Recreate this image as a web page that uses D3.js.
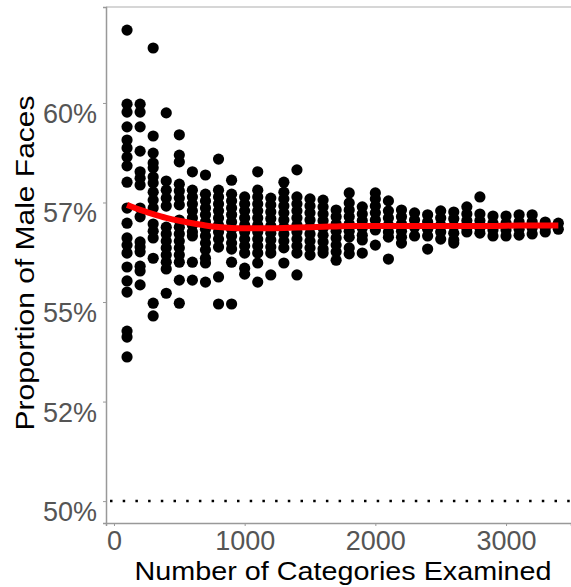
<!DOCTYPE html>
<html lang="en">
<head>
    <meta charset="UTF-8">
    <title>Proportion of Male Faces</title>
    <script src="https://cdnjs.cloudflare.com/ajax/libs/d3/7.8.5/d3.min.js"></script>
    <style>
        body {
            margin: 0;
            background-color: #fff;
            font-family: "Liberation Sans", Arial, sans-serif;
        }
        .tick-label {
            fill: #555;
            font-size: 27px;
        }
        .axis-title {
            fill: #000;
            font-size: 25px;
        }
    </style>
</head>
<body>
    <div id="chart"></div>

    <script>
        // number of categories examined (one column of dots per value)
        const categories = [100, 200, 300, 400, 500, 600, 700, 800, 900, 1000,
            1100, 1200, 1300, 1400, 1500, 1600, 1700, 1800, 1900, 2000,
            2100, 2200, 2300, 2400, 2500, 2600, 2700, 2800, 2900, 3000,
            3100, 3200, 3300, 3400];

        // proportion of male faces (%) for each sample, one list per column
        const proportions = [
            [61.83, 59.97, 59.77, 59.40, 59.07, 58.87, 58.64, 58.42, 58.01, 57.36, 56.98, 56.61, 56.43, 56.23, 55.88, 55.53, 55.25, 54.27, 54.12, 53.62],
            [59.97, 59.77, 59.40, 58.79, 58.27, 58.11, 57.94, 57.36, 57.14, 56.51, 56.38, 56.26, 55.90, 55.78, 55.43],
            [61.38, 59.17, 58.74, 58.49, 58.37, 58.14, 57.99, 57.76, 57.56, 57.36, 56.96, 56.78, 56.61, 56.10, 54.97, 54.65],
            [59.75, 58.04, 57.81, 57.61, 57.41, 56.88, 56.71, 56.53, 56.36, 56.18, 56.00, 55.83, 55.22],
            [59.20, 58.69, 58.52, 57.96, 57.79, 57.61, 57.44, 57.06, 56.88, 56.71, 56.53, 56.36, 56.18, 56.00, 55.55, 54.97],
            [58.27, 57.81, 57.64, 57.46, 57.29, 57.11, 56.93, 56.76, 56.66, 56.00, 55.55],
            [58.19, 57.71, 57.54, 57.36, 57.19, 57.01, 56.83, 56.66, 56.48, 56.31, 56.10, 55.98, 55.50],
            [58.59, 57.81, 57.64, 57.46, 57.29, 57.11, 56.93, 56.76, 56.58, 56.38, 55.63, 54.95],
            [58.06, 57.71, 57.54, 57.36, 57.19, 57.01, 56.83, 56.66, 56.48, 56.33, 56.00, 54.95],
            [57.64, 57.46, 57.29, 57.11, 56.93, 56.76, 56.58, 56.41, 56.23, 55.85, 55.70],
            [58.27, 57.81, 57.64, 57.46, 57.29, 57.11, 56.93, 56.76, 56.58, 56.41, 56.23, 55.98, 55.50],
            [57.61, 57.44, 57.26, 57.09, 56.91, 56.73, 56.56, 56.38, 56.23, 55.68],
            [58.01, 57.76, 57.59, 57.41, 57.24, 57.06, 56.88, 56.71, 56.53, 56.36, 55.98],
            [58.32, 57.64, 57.46, 57.29, 57.11, 56.93, 56.76, 56.58, 56.41, 56.23, 55.68],
            [57.59, 57.41, 57.24, 57.06, 56.88, 56.71, 56.53, 56.36, 56.18],
            [57.56, 57.39, 57.21, 57.04, 56.86, 56.68, 56.51, 56.33, 56.23],
            [57.31, 57.14, 56.96, 56.78, 56.61, 56.43, 56.26, 56.05],
            [57.74, 57.49, 57.31, 57.14, 56.96, 56.78, 56.63, 56.36, 56.21],
            [57.39, 57.21, 57.04, 56.86, 56.68, 56.56, 56.23],
            [57.74, 57.59, 57.41, 57.24, 57.06, 56.88, 56.81, 56.43],
            [57.54, 57.29, 57.11, 56.93, 56.76, 56.63, 56.08],
            [57.31, 57.14, 56.96, 56.78, 56.63, 56.48],
            [57.24, 57.06, 56.88, 56.66],
            [57.19, 57.01, 56.83, 56.66, 56.33],
            [57.29, 57.11, 56.93, 56.76, 56.58],
            [57.26, 57.09, 56.91, 56.73, 56.56, 56.48],
            [57.39, 57.21, 57.04, 56.86, 56.76],
            [57.64, 57.21, 57.04, 56.86, 56.73],
            [57.16, 56.98, 56.81, 56.66],
            [57.16, 56.98, 56.81, 56.66],
            [57.19, 57.01, 56.83, 56.68],
            [57.19, 57.01, 56.86, 56.71],
            [57.01, 56.86, 56.76],
            [56.98, 56.83]
        ];

        // smoothed trend (loess) read at each column
        const smoothValues = [57.44, 57.31, 57.21, 57.11, 57.04, 56.98, 56.92, 56.88, 56.86, 56.85,
            56.85, 56.85, 56.86, 56.87, 56.88, 56.89, 56.90, 56.91, 56.91, 56.91,
            56.91, 56.91, 56.91, 56.91, 56.91, 56.91, 56.91, 56.91, 56.91, 56.92,
            56.92, 56.92, 56.92, 56.92];

        const xTicks = [0, 1000, 2000, 3000];
        const yTicks = [50, 52.5, 55, 57.5, 60];
        const yTickLabels = ["50%", "52%", "55%", "57%", "60%"];
        const chanceLevel = 50;

        const width = 571, height = 587;
        const plot = {left: 106, right: 571, top: 7, bottom: 523};

        const svg = d3.select("#chart")
            .append("svg")
            .attr("width", width)
            .attr("height", height);

        const x = d3.scaleLinear()
            .domain([-61, 3497])
            .range([plot.left, plot.right]);

        const y = d3.scaleLinear()
            .domain([49.45, 62.41])
            .range([plot.bottom, plot.top]);

        // flatten columns into points
        const points = [];
        categories.forEach((c, i) => {
            proportions[i].forEach(p => points.push({c: c, p: p}));
        });

        // top border
        svg.append("line")
            .attr("x1", plot.left).attr("x2", plot.right)
            .attr("y1", plot.top).attr("y2", plot.top)
            .attr("stroke", "#c8c8c8")
            .attr("stroke-width", 1.5);

        // chance line
        svg.append("line")
            .attr("x1", plot.left + 4).attr("x2", plot.right)
            .attr("y1", y(chanceLevel)).attr("y2", y(chanceLevel))
            .attr("stroke", "#000")
            .attr("stroke-width", 2.5)
            .attr("stroke-dasharray", "2.5,10.2");

        // axes
        const yAxis = d3.axisLeft(y)
            .tickValues(yTicks)
            .tickFormat((d, i) => yTickLabels[i])
            .tickSize(3)
            .tickPadding(6);

        const gy = svg.append("g")
            .attr("transform", `translate(${plot.left},0)`)
            .call(yAxis);
        gy.select(".domain").attr("stroke", "#999").attr("stroke-width", 1.5);
        gy.selectAll(".tick line").attr("stroke", "#999");
        gy.selectAll(".tick text")
            .attr("class", "tick-label")
            .attr("font-family", null)
            .attr("dy", "0.72em");

        const xAxis = d3.axisBottom(x)
            .tickValues(xTicks)
            .tickFormat(d3.format("d"))
            .tickSize(3)
            .tickPadding(5);

        const gx = svg.append("g")
            .attr("transform", `translate(0,${plot.bottom})`)
            .call(xAxis);
        gx.select(".domain").attr("stroke", "#999").attr("stroke-width", 1.5);
        gx.selectAll(".tick line").attr("stroke", "#999");
        gx.selectAll(".tick text")
            .attr("class", "tick-label")
            .attr("font-family", null);
        svg.selectAll("g").attr("font-size", null);

        // points
        svg.append("g")
            .selectAll("circle")
            .data(points)
            .join("circle")
            .attr("cx", d => x(d.c))
            .attr("cy", d => y(d.p))
            .attr("r", 5.6)
            .attr("fill", "#000");

        // smooth line
        const line = d3.line()
            .x((d, i) => x(categories[i]))
            .y(d => y(d))
            .curve(d3.curveBasis);

        svg.append("path")
            .datum(smoothValues)
            .attr("d", line)
            .attr("fill", "none")
            .attr("stroke", "#ff0000")
            .attr("stroke-width", 6)
            .attr("stroke-linecap", "butt");

        // axis titles
        svg.append("text")
            .attr("class", "axis-title")
            .attr("x", 343)
            .attr("y", 580)
            .attr("text-anchor", "middle")
            .attr("textLength", 417)
            .attr("lengthAdjust", "spacingAndGlyphs")
            .text("Number of Categories Examined");

        svg.append("text")
            .attr("class", "axis-title")
            .attr("transform", "translate(34,263) rotate(-90)")
            .attr("text-anchor", "middle")
            .attr("textLength", 335)
            .attr("lengthAdjust", "spacingAndGlyphs")
            .text("Proportion of Male Faces");
    </script>
</body>
</html>
